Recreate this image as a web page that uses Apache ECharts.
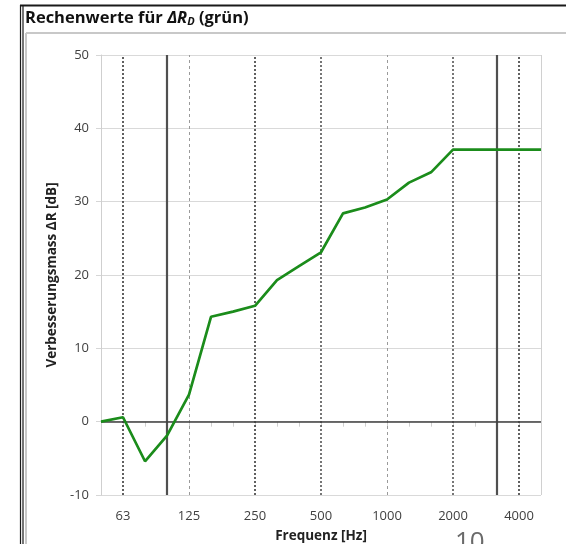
<!DOCTYPE html>
<html>
<head>
<meta charset="utf-8">
<script src="https://cdn.jsdelivr.net/npm/echarts@6/dist/echarts.min.js"></script>
<style>
  html, body { margin: 0; padding: 0; background: #ffffff; }
  #chart { width: 566px; height: 544px; }
</style>
</head>
<body>
<div id="chart"></div>
<script>
// Third-octave band centre frequencies [Hz]
const frequencies = ['50','63','80','100','125','160','200','250','315','400','500','630','800','1000','1250','1600','2000','2500','3150','4000','5000'];
// Improvement of the sound reduction index ΔR_D [dB]
const deltaR = [0, 0.6, -5.4, -1.9, 3.7, 14.3, 15.0, 15.8, 19.3, 21.2, 23.1, 28.4, 29.2, 30.3, 32.6, 34.0, 37.1, 37.1, 37.1, 37.1, 37.1];
// Octave labels shown along the frequency axis
const octaveLabels = ['63','125','250','500','1000','2000','4000'];
// Vertical reference lines
const dottedDark = ['63','250','4000'];
const dottedMid = ['500','2000'];
const dashedLight = ['125','1000'];
const solidLines = ['100','3150'];

const chart = echarts.init(document.getElementById('chart'), null, { renderer: 'canvas' });

const vLines = [];
dottedDark.forEach(f => vLines.push({ xAxis: f, lineStyle: { color: '#3a3a3a', width: 1.6, type: [2, 2] } }));
dottedMid.forEach(f => vLines.push({ xAxis: f, lineStyle: { color: '#555555', width: 1.6, type: [2, 2] } }));
dashedLight.forEach(f => vLines.push({ xAxis: f, lineStyle: { color: '#9a9a9a', width: 1, type: [3, 3] } }));
solidLines.forEach(f => vLines.push({ xAxis: f, lineStyle: { color: '#505050', width: 2.2, type: 'solid' } }));
vLines.push({ xAxis: frequencies[frequencies.length - 1], lineStyle: { color: '#d0d0d0', width: 1, type: 'solid' } });
vLines.push({ yAxis: 0, lineStyle: { color: '#3f3f3f', width: 1.6, type: 'solid' } });

const option = {
  animation: false,
  backgroundColor: '#ffffff',
  grid: { left: 101, right: 25, top: 55, bottom: 49, containLabel: false, outerBoundsMode: 'none' },
  xAxis: {
    type: 'category',
    data: frequencies,
    boundaryGap: false,
    name: 'Frequenz [Hz]',
    nameLocation: 'middle',
    nameGap: 34,
    nameTextStyle: { fontFamily: 'Open Sans', fontWeight: 'bold', fontSize: 13.5, color: '#222222' },
    axisLine: { show: true, lineStyle: { color: '#cfcfcf', width: 1 } },
    axisTick: { show: true, interval: 0, length: 5, lineStyle: { color: '#cfcfcf' } },
    axisLabel: {
      interval: (idx, val) => octaveLabels.includes(val),
      margin: 15,
      fontFamily: 'Open Sans',
      fontSize: 13,
      color: '#404040'
    },
    splitLine: { show: false }
  },
  yAxis: {
    type: 'value',
    min: -10,
    max: 50,
    interval: 10,
    name: 'Verbesserungsmass ΔR [dB]',
    nameLocation: 'middle',
    nameGap: 42,
    nameRotate: 90,
    nameTextStyle: { fontFamily: 'Open Sans', fontWeight: 'bold', fontSize: 13.5, color: '#222222' },
    axisLine: { show: true, lineStyle: { color: '#cfcfcf', width: 1 } },
    axisTick: { show: true, length: 5, lineStyle: { color: '#d6d6d6' } },
    axisLabel: { margin: 12, fontFamily: 'Open Sans', fontSize: 13, color: '#404040' },
    splitLine: { show: true, lineStyle: { color: '#d9d9d9', width: 1.2 } }
  },
  series: [
    {
      // reference lines drawn beneath the curve
      type: 'line',
      data: deltaR,
      showSymbol: false,
      silent: true,
      z: 1,
      lineStyle: { opacity: 0 },
      markLine: {
        silent: true,
        symbol: ['none', 'none'],
        label: { show: false },
        animation: false,
        data: vLines
      }
    },
    {
      name: 'ΔR_D',
      type: 'line',
      data: deltaR,
      showSymbol: false,
      z: 5,
      lineStyle: { color: '#1b8c1b', width: 2.7 }
    }
  ],
  graphic: [
    // outer frame
    { type: 'line', shape: { x1: 20, y1: 5.5, x2: 566, y2: 5.5 }, style: { stroke: '#1a1a1a', lineWidth: 2 }, silent: true },
    { type: 'line', shape: { x1: 20.5, y1: 5, x2: 20.5, y2: 544 }, style: { stroke: '#1a1a1a', lineWidth: 1.2 }, silent: true },
    { type: 'line', shape: { x1: 23, y1: 5, x2: 23, y2: 544 }, style: { stroke: '#1a1a1a', lineWidth: 1.2 }, silent: true },
    // inner chart box
    { type: 'line', shape: { x1: 26, y1: 33, x2: 566, y2: 33 }, style: { stroke: '#c8c8c8', lineWidth: 2 }, silent: true },
    { type: 'line', shape: { x1: 26, y1: 33, x2: 26, y2: 544 }, style: { stroke: '#c8c8c8', lineWidth: 2 }, silent: true },
    // heading
    {
      type: 'text', left: 25, top: 10,
      style: {
        rich: {
          a: { fontFamily: 'Open Sans', fontWeight: 'bold', fontSize: 16.5, fill: '#111111' },
          i: { fontFamily: 'Open Sans', fontWeight: 'bold', fontStyle: 'italic', fontSize: 16.5, fill: '#111111' },
          s: { fontFamily: 'Open Sans', fontWeight: 'bold', fontStyle: 'italic', fontSize: 11, fill: '#111111', padding: [7, 0, 0, 0] }
        },
        text: '{a|Rechenwerte für }{i|ΔR}{s|D}{a| (grün)}'
      }
    },
    // page number
    { type: 'text', left: 455, top: 530, style: { text: '10', fontFamily: 'Open Sans', fontSize: 26, fill: '#6a6a6a' } }
  ]
};

chart.setOption(option);
</script>
</body>
</html>
